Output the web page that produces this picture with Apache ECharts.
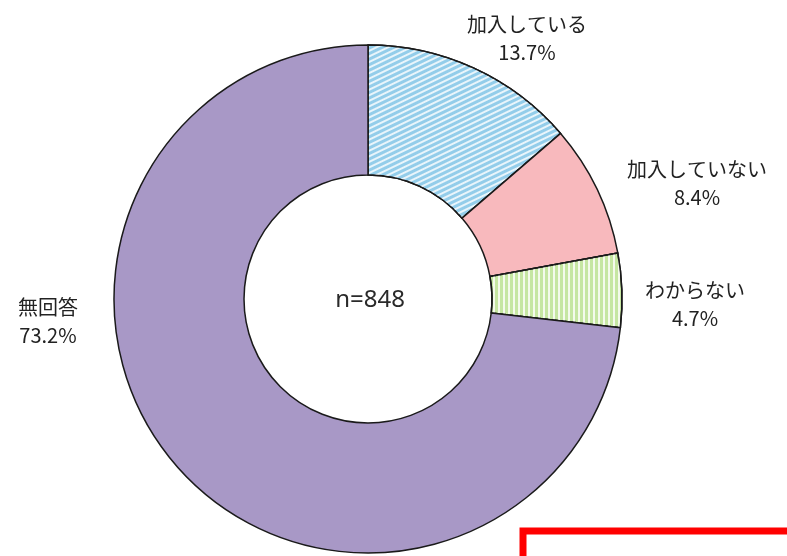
<!DOCTYPE html>
<html>
<head>
<meta charset="utf-8">
<script src="https://cdn.jsdelivr.net/npm/echarts@6/dist/echarts.min.js"></script>
<style>
  html, body { margin: 0; padding: 0; background: #fff; }
  #main { width: 787px; height: 556px; }
</style>
</head>
<body>
<div id="main"></div>
<script>
'use strict';

// 回答区分と割合(%)
var categories = ['加入している', '加入していない', 'わからない', '無回答'];
var shares = [13.7, 8.4, 4.7, 73.2];
var sampleText = 'n=848';

// ラベル位置(文字ブロックの中心)
var labelPos = [[527, 38], [697, 183], [695, 304], [48, 321]];

var chart = echarts.init(document.getElementById('main'));

//塗りつぶし(斜線・縦線)
var fills = [
    {
        color: '#93cdea',
        decal: {
            symbol: 'rect', symbolSize: 1, color: 'rgba(255,255,255,0.8)',
            dashArrayX: [1, 0], dashArrayY: [2, 3], rotation: -Math.PI / 7
        }
    },
    { color: '#f8b9bd' },
    {
        color: '#c6e6a2',
        decal: {
            symbol: 'rect', symbolSize: 1, color: 'rgba(255,255,255,0.8)',
            dashArrayX: [1, 0], dashArrayY: [2, 3], rotation: Math.PI / 2
        }
    },
    { color: '#a898c6' }
];

var pieData = categories.map(function (name, i) {
    var style = { color: fills[i].color };
    if (fills[i].decal) {
        style.decal = fills[i].decal;
    }
    return { name: name, value: shares[i], itemStyle: style };
});

var option = {
    animation: false,
    backgroundColor: '#fff',
    graphic: [
        {
            type: 'text',
            x: 370,
            y: 300,
            style: {
                text: sampleText,
                fill: '#2a2a2a',
                font: '24px "Noto Sans", sans-serif',
                textAlign: 'center',
                textVerticalAlign: 'middle'
            }
        },
        {
            type: 'rect',
            shape: { x: 523, y: 531, width: 280, height: 60 },
            style: { fill: 'none', stroke: '#ff0000', lineWidth: 7 }
        }
    ],
    series: [
        {
            type: 'pie',
            center: [368, 299],
            radius: [124, 254],
            startAngle: 90,
            clockwise: true,
            itemStyle: {
                borderColor: '#1a1a1a',
                borderWidth: 1.5
            },
            label: {
                show: true,
                position: 'outside',
                formatter: '{b}\n{c}%',
                color: '#222',
                fontFamily: '"Noto Sans CJK JP", sans-serif',
                fontSize: 20,
                lineHeight: 28,
                align: 'center',
                overflow: 'none',
                width: 200
            },
            labelLine: { show: false },
            labelLayout: function (params) {
                var p = labelPos[params.dataIndex];
                return { x: p[0], y: p[1], align: 'center', verticalAlign: 'middle' };
            },
            emphasis: { disabled: true },
            data: pieData
        }
    ]
};

chart.setOption(option);
</script>
</body>
</html>
